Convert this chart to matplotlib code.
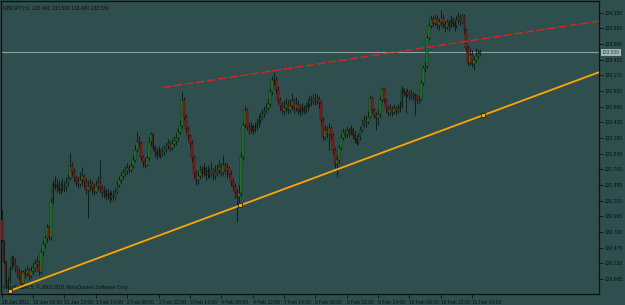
import matplotlib
matplotlib.use("Agg")
import matplotlib.pyplot as plt
import numpy as np
from matplotlib.patches import Rectangle
import matplotlib.transforms as mtransforms

# ---------------- data ----------------
symbol_title = "GBPJPY,H1  133.490 133.530 133.480 133.530"
copyright_text = "MetaTrader 5, \u00a9 2001-2011 MetaQuotes Software Corp."

first_open = 130.91
closes = [
    130.60,130.25,129.89,129.97,130.16,130.31,130.25,130.16,130.05,130.10,129.91,130.10,130.06,130.13,130.03,130.11,130.16,130.22,130.25,130.10,130.41,130.53,130.63,130.80,130.64,131.19,131.47,
    131.42,131.46,131.38,131.39,131.44,131.41,131.49,131.57,131.75,131.66,131.57,131.52,131.47,131.53,131.60,131.50,131.38,131.44,131.47,131.41,131.35,131.44,131.49,131.41,131.33,131.36,131.28,131.32,131.25,131.30,131.27,131.35,131.46,131.53,131.60,131.64,
    131.68,131.72,131.69,131.75,131.85,132.00,132.13,132.11,131.89,131.82,131.77,131.88,132.13,132.25,132.05,131.97,131.93,132.00,131.94,131.97,132.02,132.07,132.11,132.04,132.10,132.14,132.19,132.29,132.38,132.79,132.52,132.33,132.22,132.11,131.88,131.64,131.53,131.60,131.69,131.64,131.72,131.61,131.68,131.63,131.71,131.60,131.66,131.69,131.74,131.66,131.77,131.69,131.72,131.63,131.50,131.44,131.35,131.27,131.33,
    131.89,132.39,132.63,132.36,132.32,132.38,132.30,132.36,132.41,132.47,132.52,132.57,132.61,132.66,132.72,132.91,133.10,133.10,132.94,132.79,132.69,132.61,132.66,132.72,132.63,132.69,132.77,132.66,132.72,132.63,132.60,132.66,132.61,132.68,132.72,132.79,132.75,132.82,132.77,132.80,132.74,132.47,132.21,132.32,132.25,132.35,132.24,132.00,131.78,131.85,132.04,132.19,132.29,132.25,132.32,132.27,132.33,132.24,132.18,132.11,132.21,132.32,132.41,132.47,
    132.44,132.52,132.82,132.63,132.55,132.50,132.57,132.79,132.96,132.79,132.66,132.58,132.64,132.60,132.66,132.61,132.64,132.69,132.96,132.90,132.86,132.91,132.85,132.88,132.83,132.85,132.79,132.80,133.05,133.29,133.32,133.76,133.94,134.05,133.99,134.05,133.96,134.01,134.07,133.97,133.93,134.01,133.94,134.04,133.99,133.94,134.04,134.08,134.01,134.10,133.88,133.60,133.36,133.49,133.35,133.41,133.47,133.51,133.53,
]
highs = [
    131.06,130.60,130.28,130.03,130.19,130.36,130.35,130.31,130.20,130.16,130.13,130.13,130.16,130.20,130.16,130.19,130.25,130.30,130.35,130.28,130.47,130.60,130.67,130.85,130.83,131.25,131.53,
    131.60,131.57,131.53,131.50,131.57,131.52,131.58,131.63,131.96,131.82,131.72,131.61,131.60,131.66,131.74,131.63,131.57,131.53,131.55,131.52,131.49,131.53,131.60,131.85,131.46,131.44,131.41,131.39,131.38,131.36,131.38,131.41,131.52,131.60,131.66,131.71,
    131.75,131.80,131.77,131.82,131.93,132.08,132.29,132.22,132.14,131.93,131.88,131.93,132.21,132.29,132.27,132.08,132.04,132.07,132.02,132.05,132.08,132.13,132.18,132.14,132.18,132.22,132.27,132.35,132.47,132.91,132.83,132.57,132.38,132.25,132.16,131.93,131.69,131.68,131.77,131.75,131.80,131.75,131.77,131.72,131.82,131.72,131.77,131.78,131.85,131.80,131.93,131.82,131.80,131.75,131.69,131.57,131.49,131.41,131.46,
    131.97,132.44,132.69,132.66,132.44,132.46,132.41,132.44,132.50,132.55,132.60,132.64,132.69,132.74,132.82,132.97,133.16,133.22,133.16,133.00,132.83,132.75,132.79,132.82,132.79,132.80,132.90,132.82,132.83,132.79,132.72,132.74,132.71,132.75,132.80,132.86,132.85,132.88,132.90,132.88,132.85,132.79,132.52,132.39,132.38,132.43,132.38,132.27,132.05,131.93,132.08,132.27,132.35,132.33,132.38,132.35,132.39,132.35,132.30,132.24,132.27,132.38,132.49,132.55,
    132.54,132.61,132.86,132.85,132.66,132.60,132.63,132.85,132.99,132.99,132.82,132.71,132.72,132.69,132.72,132.69,132.72,132.77,133.00,132.97,132.94,132.97,132.94,132.94,132.91,132.90,132.88,132.85,133.10,133.33,133.38,133.80,134.01,134.12,134.10,134.13,134.12,134.07,134.19,134.13,134.02,134.05,134.04,134.12,134.08,134.05,134.12,134.16,134.13,134.15,134.13,133.91,133.65,133.60,133.57,133.47,133.60,133.58,133.58,
]
lows = [
    130.56,130.22,129.85,129.80,129.92,130.13,130.19,130.10,130.00,129.97,129.85,129.88,130.00,130.03,129.97,130.00,130.06,130.10,130.16,130.05,130.06,130.35,130.47,130.56,130.60,130.60,131.16,
    131.38,131.35,131.33,131.32,131.36,131.35,131.36,131.44,131.53,131.60,131.50,131.44,131.41,131.42,131.46,131.41,131.32,130.94,131.36,131.32,131.30,131.33,131.38,131.35,131.27,131.25,131.22,131.24,131.17,131.22,131.21,131.24,131.32,131.42,131.49,131.55,
    131.60,131.63,131.64,131.66,131.72,131.82,131.97,132.05,131.85,131.74,131.72,131.75,131.85,132.08,132.00,131.89,131.86,131.89,131.88,131.91,131.93,131.97,132.02,131.99,132.00,132.05,132.08,132.14,132.25,132.35,132.47,132.29,132.16,132.05,131.82,131.57,131.46,131.47,131.55,131.58,131.60,131.52,131.57,131.57,131.58,131.53,131.55,131.60,131.63,131.60,131.61,131.63,131.57,131.58,131.44,131.38,131.25,130.88,131.14,
    131.28,131.85,132.35,132.32,132.25,132.27,132.25,132.29,132.32,132.36,132.43,132.47,132.52,132.58,132.63,132.68,132.86,133.02,132.88,132.74,132.63,132.57,132.55,132.60,132.57,132.58,132.63,132.58,132.61,132.57,132.54,132.55,132.57,132.58,132.61,132.68,132.69,132.72,132.71,132.72,132.66,132.41,132.16,132.16,132.19,132.00,132.16,131.94,131.72,131.58,131.80,132.00,132.16,132.19,132.21,132.21,132.24,132.18,132.11,132.08,132.10,132.16,132.29,132.36,
    132.36,132.41,132.50,132.58,132.50,132.32,132.39,132.52,132.75,132.74,132.60,132.54,132.55,132.54,132.57,132.55,132.58,132.60,132.66,132.85,132.58,132.83,132.79,132.80,132.77,132.55,132.72,132.74,132.77,133.02,133.22,133.29,133.72,133.91,133.93,133.96,133.90,133.88,133.94,133.91,133.85,133.90,133.87,133.91,133.93,133.87,133.91,133.97,133.94,133.97,133.83,133.54,133.32,133.33,133.30,133.25,133.38,133.44,133.47,
]
opens = [first_open] + closes[:-1]

price_ticks = [129.985, 130.230, 130.475, 130.720, 130.965, 131.210, 131.455, 131.700,
               131.945, 132.190, 132.435, 132.680, 132.925, 133.170, 133.415, 133.660,
               133.905, 134.150]
time_tick_bars = [0, 16, 32, 48, 64, 80, 96, 112, 128, 144, 160, 176, 192, 208, 224, 240]
time_tick_labels = ["28 Jan 2011", "31 Jan 06:00", "31 Jan 22:00", "1 Feb 14:00",
                    "2 Feb 06:00", "2 Feb 22:00", "3 Feb 14:00", "4 Feb 06:00",
                    "4 Feb 22:00", "7 Feb 14:00", "8 Feb 06:00", "8 Feb 22:00",
                    "9 Feb 14:00", "10 Feb 06:00", "10 Feb 22:00", "11 Feb 14:00"]
current_price = 133.530

support_bars = [4.2, 304.7]
support_prices = [129.80, 133.22]
support_anchor_bars = [4.2, 121.6, 245.6]
resistance_bars = [82.3, 304.7]
resistance_prices = [132.98, 134.02]

# ---------------- style ----------------
BG = "#2F4F4F"
INK = "#0a0f0f"
plt.rcParams["font.family"] = ["Liberation Sans", "DejaVu Sans"]
FS = 3.6

fig = plt.figure(figsize=(6.25, 3.05), dpi=100, facecolor=BG)
ax = fig.add_axes([1 / 625, 11 / 305, 598 / 625, 293 / 305], facecolor=BG)
ax.set_xlim(-0.36, 304.7)
ax.set_ylim(129.750, 134.334)

# candles
n = len(closes)
for i in range(n):
    o, c = opens[i], closes[i]
    h = max(highs[i], o, c)
    l = min(lows[i], o, c)
    ax.vlines(i, l, h, color=INK, lw=0.55, zorder=3)
    bottom = min(o, c)
    height = abs(c - o)
    if height < 0.004:
        ax.hlines(c, i - 0.4, i + 0.4, color=INK, lw=0.6, zorder=4)
    else:
        col = "#1e8a1e" if c > o else "#b01010"
        ax.add_patch(Rectangle((i - 0.42, bottom), 0.84, height, facecolor=col,
                               edgecolor=INK, lw=0.3, zorder=4))

# current price line
ax.axhline(current_price, color="#8fa0a0", lw=0.8, zorder=2)

# trend lines
ax.plot(resistance_bars, resistance_prices, color="#e02020", lw=1.0,
        dashes=(6, 2), zorder=5)
ax.plot(support_bars, support_prices, color="#FFA500", lw=1.3, zorder=5)
anchor_prices = np.interp(support_anchor_bars, support_bars, support_prices)
ax.plot(support_anchor_bars, anchor_prices, ls="none", marker="s", ms=2.6,
        mfc="#FFA500", mec=INK, mew=0.5, zorder=6)

# axes / ticks
for s in ax.spines.values():
    s.set_color(INK)
    s.set_linewidth(0.9)
ax.yaxis.tick_right()
ax.set_yticks(price_ticks)
ax.set_yticklabels([f"{p:.3f}" for p in price_ticks])
ax.set_xticks(time_tick_bars)
ax.set_xticklabels(time_tick_labels, ha="left")
ax.tick_params(axis="both", direction="out", length=3, width=0.6, color=INK,
               labelcolor=INK, labelsize=FS)
ax.tick_params(axis="y", pad=1.2)
ax.tick_params(axis="x", pad=1.0)

# current price tag
trans = mtransforms.blended_transform_factory(ax.transAxes, ax.transData)
ax.text(1.005, current_price, f"{current_price:.3f}", transform=trans,
        fontsize=FS, color="#2F4F4F", va="center", ha="left", zorder=10,
        bbox=dict(boxstyle="square,pad=0.2", fc="#a3b3b3", ec="none"),
        clip_on=False)

ax.text(0.004, 0.985, symbol_title, transform=ax.transAxes, fontsize=FS,
        color=INK, va="top", ha="left")
ax.text(0.004, 0.022, copyright_text, transform=ax.transAxes, fontsize=FS,
        color=INK, va="center", ha="left")

fig.savefig("out.png", dpi=100, facecolor=BG)
